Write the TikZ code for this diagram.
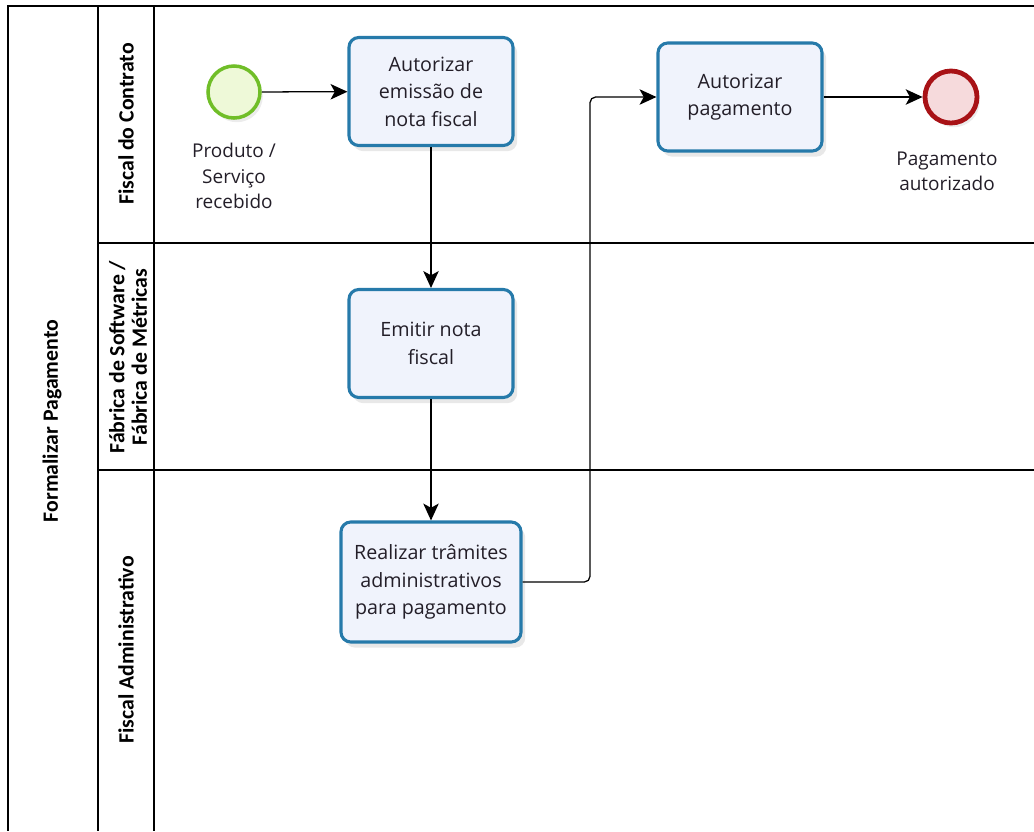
\documentclass[tikz,border=0pt]{standalone}
\usepackage{fontspec}
\setmainfont{Open Sans}
\newfontfamily\lanefont{Carlito}
\usetikzlibrary{arrows.meta,shadows}
\definecolor{taskblue}{RGB}{38,122,170}
\definecolor{taskfill}{RGB}{240,243,252}
\definecolor{startgreen}{RGB}{112,190,40}
\definecolor{startfill}{RGB}{238,249,216}
\definecolor{endred}{RGB}{168,18,22}
\definecolor{endfill}{RGB}{246,218,220}
\definecolor{textgray}{RGB}{35,30,40}
\begin{document}
\begin{tikzpicture}[x=0.025cm,y=-0.025cm]
  \tikzset{task/.style = {draw=taskblue, line width=2.2pt, fill=taskfill, rounded corners=7pt,
                          align=center, text=textgray, font=\fontsize{14}{19.5}\selectfont,
                          drop shadow={opacity=0.18, shadow xshift=3pt, shadow yshift=-4pt}},
           lane label/.style = {rotate=90, align=center, font=\lanefont\bfseries\fontsize{15.5}{16}\selectfont},
           event label/.style = {align=center, text=textgray, font=\fontsize{13.5}{18}\selectfont},
           flow/.style = {-{Stealth[length=12pt,width=11pt,inset=3pt]}, line width=0.9pt}}
  \useasboundingbox (0,0) rectangle (1034,831);
  % pool and lanes
  \draw[line width=0.8pt] (1034,6) -- (8,6) -- (8,831);
  \draw[line width=0.8pt] (98,6) -- (98,831);
  \draw[line width=0.8pt] (154,6) -- (154,831);
  \draw[line width=0.8pt] (98,243) -- (1034,243);
  \draw[line width=0.8pt] (98,470) -- (1034,470);
  \node[lane label] (pool) at (52,421) {Formalizar Pagamento};
  \node[lane label] (lane1) at (126,124) {Fiscal do Contrato};
  \node[lane label] (lane2) at (128,357) {Fábrica de Software /\\Fábrica de Métricas};
  \node[lane label] (lane3) at (126,650) {Fiscal Administrativo};
  % events
  \node[circle, draw=startgreen, line width=2.5pt, fill=startfill, minimum size=1.3cm,
        drop shadow={opacity=0.15, shadow xshift=2pt, shadow yshift=-3pt}] (start) at (234,92) {};
  \node[event label] (startlbl) at (234,176) {Produto /\\Serviço\\recebido};
  \node[circle, draw=endred, line width=3.4pt, fill=endfill, minimum size=1.3cm,
        drop shadow={opacity=0.15, shadow xshift=2pt, shadow yshift=-3pt}] (end) at (951,97) {};
  \node[event label] (endlbl) at (947,171) {Pagamento\\autorizado};
  % tasks
  \node[task, minimum width=4.1cm, minimum height=2.7cm] (autemissao) at (431,91.5) {Autorizar\\emissão de\\nota fiscal};
  \node[task, minimum width=4.1cm, minimum height=2.7cm] (autpag) at (740,97) {Autorizar\\pagamento};
  \node[task, minimum width=4.1cm, minimum height=2.7cm] (emitir) at (431,343.5) {Emitir nota\\fiscal};
  \node[task, minimum width=4.5cm, minimum height=3cm] (tramites) at (431,582) {Realizar trâmites\\administrativos\\para pagamento};
  \coordinate (bend) at (590,582);
  % flows
  \draw[flow] (start) -- (autemissao);
  \draw[flow] (autemissao) -- (emitir);
  \draw[flow] (emitir) -- (tramites);
  \draw[flow, rounded corners=4pt] (tramites.east) -- (bend) |- (autpag.west);
  \draw[flow] (autpag) -- (end);
\end{tikzpicture}
\end{document}
